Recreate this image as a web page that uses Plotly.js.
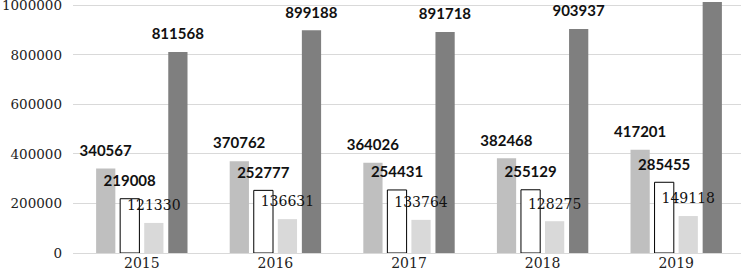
<!DOCTYPE html>
<html>
<head>
<meta charset="utf-8">
<script src="https://cdn.plot.ly/plotly-3.0.1.min.js"></script>
<style>html,body{margin:0;padding:0;background:#fff;}#chart{width:741px;height:280px;}</style>
</head>
<body>
<div id="chart"></div>
<script>
const years = ['2015', '2016', '2017', '2018', '2019'];
const seriesA = [340567, 370762, 364026, 382468, 417201];
const seriesB = [219008, 252777, 254431, 255129, 285455];
const seriesC = [121330, 136631, 133764, 128275, 149118];
const seriesD = [811568, 899188, 891718, 903937, 1030000];
const yTop = 1013000;
const labelLift = 27000;

function labels(vals) { return vals.map(v => v > yTop ? '' : String(v)); }

function bar(vals, color, lineColor, lineWidth) {
  return {
    type: 'bar', x: years, y: vals, xaxis: 'x', yaxis: 'y',
    marker: {color: color, line: {color: lineColor, width: lineWidth}},
    hoverinfo: 'skip', showlegend: false
  };
}
function labelBar(vals, font) {
  return {
    type: 'bar', x: years, y: vals, xaxis: 'x2', yaxis: 'y2',
    text: labels(vals), textposition: 'outside', constraintext: 'none', cliponaxis: false,
    textfont: font,
    marker: {color: 'rgba(0,0,0,0)', line: {width: 0}},
    hoverinfo: 'skip', showlegend: false
  };
}
const boldFont = {family: 'Lato, sans-serif', size: 15, color: '#111', weight: 'bold'};
const serifFont = {family: 'DejaVu Serif, serif', size: 14, color: '#111'};

const data = [
  bar(seriesA, '#bfbfbf', '#bfbfbf', 0),
  bar(seriesB, '#ffffff', '#000000', 1),
  bar(seriesC, '#d9d9d9', '#d9d9d9', 0),
  bar(seriesD, '#7f7f7f', '#7f7f7f', 0),
  labelBar(seriesA, boldFont),
  labelBar(seriesB, boldFont),
  labelBar(seriesC, serifFont),
  labelBar(seriesD, boldFont)
];

const layout = {
  width: 741, height: 280,
  margin: {l: 73, r: 0, t: 2, b: 27},
  paper_bgcolor: '#fff', plot_bgcolor: '#fff',
  barmode: 'group', bargap: 0.28, bargroupgap: 0.2,
  showlegend: false,
  xaxis: {type: 'category', range: [-0.515, 4.485], showgrid: false, showline: false, ticks: '',
          tickfont: {family: 'DejaVu Serif, serif', size: 14, color: '#222'}},
  xaxis2: {type: 'category', overlaying: 'x', matches: 'x', visible: false},
  yaxis: {range: [0, yTop], dtick: 200000, tickformat: 'd', showgrid: true, gridcolor: '#d9d9d9', gridwidth: 1,
          zeroline: true, zerolinecolor: '#d9d9d9', zerolinewidth: 1, showline: false, ticks: '',
          ticklabelstandoff: 10, ticklabeloverflow: 'allow',
          tickfont: {family: 'DejaVu Serif, serif', size: 13.5, color: '#222'}},
  yaxis2: {overlaying: 'y', range: [-labelLift, yTop - labelLift], visible: false}
};

Plotly.newPlot('chart', data, layout, {staticPlot: true, displayModeBar: false});
</script>
</body>
</html>
